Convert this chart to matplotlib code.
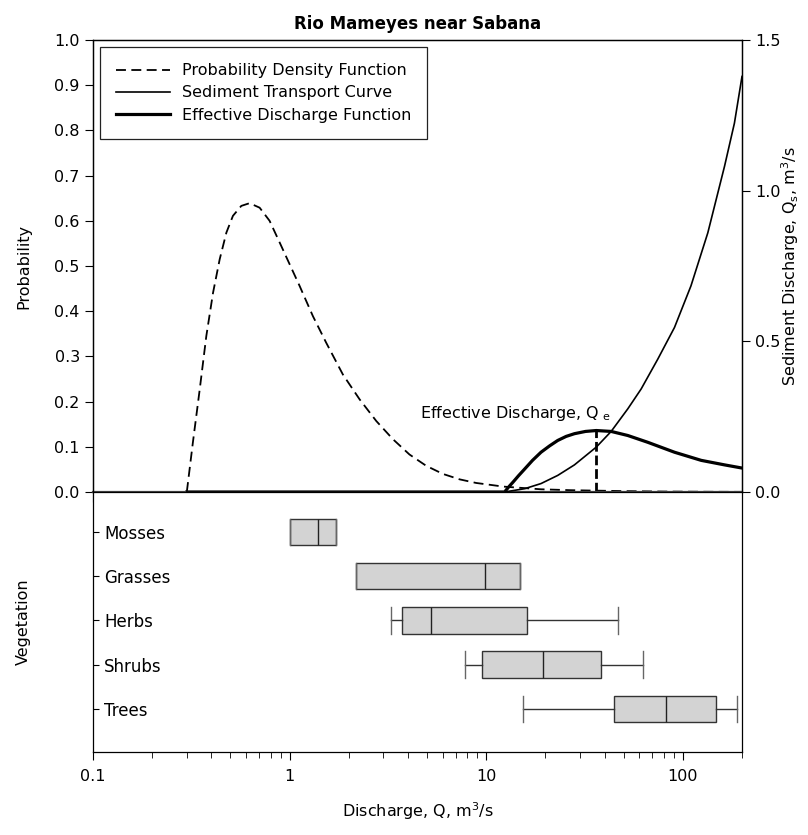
import numpy as np
import matplotlib
matplotlib.use('Agg')
import matplotlib.pyplot as plt
from matplotlib.ticker import LogLocator, NullFormatter, FuncFormatter, FixedLocator

plt.rcParams['font.family'] = ['DejaVu Sans']
plt.rcParams['mathtext.default'] = 'regular'
plt.rcParams['font.size'] = 11.5
plt.rcParams['axes.linewidth'] = 0.9

# probability density function (left axis)
pdf_q = [0.30, 0.322, 0.349, 0.377, 0.408, 0.441, 0.477, 0.515, 0.568, 0.626,
         0.704, 0.791, 0.89, 1.0, 1.124, 1.314, 1.536, 1.866, 2.27, 2.76,
         3.35, 4.07, 4.95, 6.02, 7.32, 8.89, 12.2, 19.0, 27.0, 36.3,
         50, 80, 140, 200]
pdf_p = [0.0, 0.109, 0.227, 0.345, 0.441, 0.515, 0.574, 0.611, 0.633, 0.639,
         0.629, 0.600, 0.552, 0.504, 0.456, 0.389, 0.330, 0.260, 0.205, 0.157,
         0.117, 0.083, 0.058, 0.040, 0.028, 0.020, 0.012, 0.006, 0.004, 0.003,
         0.002, 0.001, 0.0005, 0.0003]

# sediment transport curve (right axis, m3/s)
sed_q = [0.3, 12.4, 15.7, 19.0, 23.1, 28.1, 36.3, 43.2, 52.5, 61.4,
         74.6, 90.7, 110, 134, 163, 183, 200]
sed_qs = [0.0, 0.0, 0.011, 0.028, 0.055, 0.090, 0.149, 0.201, 0.276, 0.342,
          0.441, 0.546, 0.684, 0.860, 1.081, 1.224, 1.379]

# effective discharge function (left axis)
eff_q = [0.3, 12.4, 13.0, 13.7, 14.6, 15.7, 17.2, 19.0, 21.0, 23.1, 25.5,
         28.1, 32.0, 36.3, 43.2, 52.5, 66.3, 90.7, 124, 163, 200]
eff_p = [0.0, 0.0, 0.011, 0.022, 0.036, 0.051, 0.070, 0.088, 0.102, 0.114, 0.123,
         0.129, 0.134, 0.136, 0.134, 0.125, 0.110, 0.088, 0.070, 0.060, 0.053]

q_eff = 36.3
p_eff = 0.136

# vegetation discharge ranges
veg_names = ['Mosses', 'Grasses', 'Herbs', 'Shrubs', 'Trees']
veg_whislo = [1.0, 2.18, 3.28, 7.82, 15.3]
veg_q1 = [1.0, 2.18, 3.75, 9.55, 44.5]
veg_med = [1.40, 9.9, 5.25, 19.4, 81.9]
veg_q3 = [1.72, 14.9, 16.1, 38.3, 147.5]
veg_whishi = [1.72, 14.9, 47.0, 62.5, 189.0]

W, H = 808, 835
fig = plt.figure(figsize=(W / 100, H / 100), dpi=100)
left, right, top, mid, bot = 93, 742, 40, 492, 752
ax1 = fig.add_axes([left / W, 1 - mid / H, (right - left) / W, (mid - top) / H])
ax2 = fig.add_axes([left / W, 1 - bot / H, (right - left) / W, (bot - mid) / H], sharex=ax1)
ax1r = ax1.twinx()

ax1.set_xscale('log')
ax1.set_xlim(0.1, 200)
ax1.set_ylim(0, 1.0)
ax1r.set_ylim(0, 1.5)

l_pdf, = ax1.plot(pdf_q, pdf_p, color='k', ls='--', lw=1.3, dashes=(5.5, 3.0))
l_eff, = ax1.plot(eff_q, eff_p, color='k', lw=2.3)
ax1.plot([q_eff, q_eff], [0, p_eff], color='k', ls='--', lw=2.0, dashes=(3.5, 1.4))
l_sed, = ax1r.plot(sed_q, sed_qs, color='k', lw=1.2)

leg = ax1r.legend([l_pdf, l_sed, l_eff],
                  ['Probability Density Function', 'Sediment Transport Curve',
                   'Effective Discharge Function'],
                  loc='upper left', fontsize=11.5, handlelength=3.4, handletextpad=0.7,
                  borderpad=1.0, borderaxespad=0.45, labelspacing=0.45,
                  fancybox=False, framealpha=1)
leg.get_frame().set_edgecolor('#222222')
leg.get_frame().set_linewidth(0.9)

ax1.text(42.7, 0.164, 'Effective Discharge, Q$_{\\ e}$', ha='right', va='baseline', fontsize=11.5)

ax1.set_title('Rio Mameyes near Sabana', fontweight='bold', fontsize=12, pad=8)

# left / right axis ticks
ax1.set_yticks(np.arange(0, 1.01, 0.1))
ax1.yaxis.set_major_formatter(FuncFormatter(lambda v, p: f'{v:.1f}'))
ax1.tick_params(axis='y', direction='out', length=6, labelsize=11.5, right=False)
ax1r.set_yticks([0, 0.5, 1.0, 1.5])
ax1r.yaxis.set_major_formatter(FuncFormatter(lambda v, p: f'{v:.1f}'))
ax1r.tick_params(axis='y', direction='out', length=6, labelsize=11.5, left=False)

ax1.xaxis.set_major_locator(LogLocator(base=10, numticks=10))
ax1.xaxis.set_minor_locator(LogLocator(base=10, subs=np.arange(2, 10), numticks=20))
ax1.xaxis.set_major_formatter(FuncFormatter(lambda v, p: f'{v:g}'))
ax1.xaxis.set_minor_formatter(NullFormatter())
ax1.tick_params(axis='x', which='major', direction='out', length=7, labelbottom=False, top=False)
ax1.tick_params(axis='x', which='minor', direction='out', length=4, labelbottom=False, top=False)
ax1.spines['bottom'].set_linewidth(1.6)
ax1.spines['bottom'].set_color('#444444')

ax1.set_ylabel('Probability', fontsize=11.5)
ax1.yaxis.set_label_coords(-0.095, 0.5)
ax1r.set_ylabel('Sediment Discharge, Q$_{s}$, m$^{3}$/s', fontsize=11.5)
ax1r.yaxis.set_label_coords(1.058, 0.5)

# vegetation boxes
positions = list(range(len(veg_names), 0, -1))
stats = []
for i, name in enumerate(veg_names):
    stats.append(dict(label=name, med=veg_med[i], q1=veg_q1[i], q3=veg_q3[i],
                      whislo=veg_whislo[i], whishi=veg_whishi[i], fliers=[]))
ax2.bxp(stats, positions=positions, widths=0.6, capwidths=0.6,
        orientation='horizontal', patch_artist=True, showfliers=False,
        boxprops=dict(facecolor='#d3d3d3', edgecolor='#333333', lw=1.0),
        medianprops=dict(color='#222222', lw=1.0),
        whiskerprops=dict(color='#333333', lw=1.0),
        capprops=dict(color='#666666', lw=1.0), manage_ticks=False)

ax2.set_ylim(0.03, 5.9)
ax2.set_xlim(0.1, 200)
ax2.yaxis.set_major_locator(FixedLocator(positions))
ax2.set_yticklabels(veg_names, fontsize=12)
ax2.tick_params(axis='y', direction='in', length=4, pad=-8)
for lab in ax2.get_yticklabels():
    lab.set_horizontalalignment('left')
ax2.tick_params(axis='x', which='major', direction='out', length=6, labelsize=11.5, pad=6, top=False)
ax2.tick_params(axis='x', which='minor', direction='out', length=4, top=False)
ax2.spines['top'].set_visible(False)
ax2.set_ylabel('Vegetation', fontsize=11.5)
ax2.yaxis.set_label_coords(-0.095, 0.5)
ax2.set_xlabel('Discharge, Q, m$^{3}$/s', fontsize=11.5, labelpad=12)

fig.savefig('out.png', dpi=100)
